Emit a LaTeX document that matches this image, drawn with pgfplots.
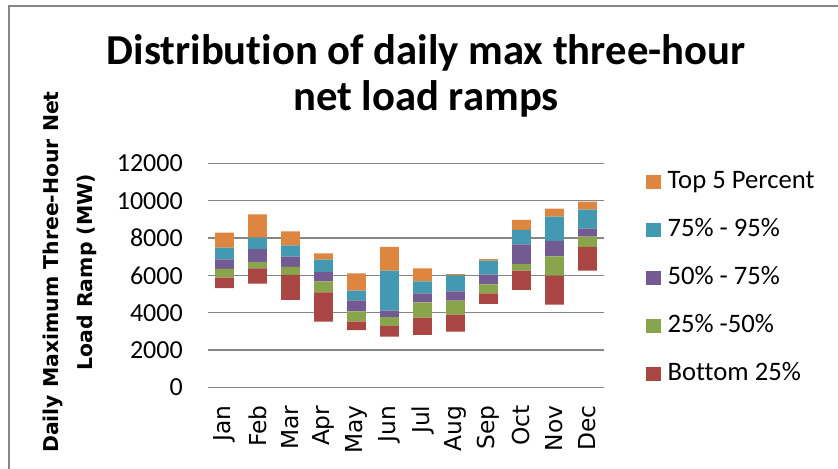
\documentclass[border=0pt]{standalone}
\usepackage{fontspec}
\setmainfont[Ligatures=NoCommon]{Carlito}
\newfontfamily\dejavu{DejaVu Sans}
\usepackage{pgfplots}
\usepackage{pgfplotstable}
\pgfplotsset{compat=1.18}

\definecolor{cTop}{RGB}{222,134,64}
\definecolor{cHigh}{RGB}{67,153,177}
\definecolor{cMid}{RGB}{115,90,146}
\definecolor{cLow}{RGB}{137,165,76}
\definecolor{cBot}{RGB}{169,69,67}
\definecolor{gridgray}{RGB}{134,134,134}

% base = lower end of the bar, then segment heights (MW)
\pgfplotstableread{
x base bot low mid high top
0  5320  555  465  520  625  805
1  5555  820  340  695  605  1250
2  4680  1340 430  555  605  750
3  3520  1570 590  500  660  340
4  3070  450  550  590  520  930
5  2715  570  480  340  2145 1270
6  2805  930  820  480  645  695
7  2980  910  750  500  860  70
8  4465  570  480  520  750  90
9  5215  1035 355  1055 770  535
10 4430  1550 1040 820  1305 425
11 6250  1270 555  430  1015 430
}\ramps

\begin{document}
\begin{tikzpicture}
\useasboundingbox (0,0) rectangle (628.5pt,-351pt);
\draw[gridgray, line width=1.5pt] (6.4pt,-360pt) -- (6.4pt,-4.5pt) -- (640pt,-4.5pt);

\node[anchor=base, font=\fontsize{32}{38}\selectfont\bfseries] at (319.5pt,-48pt) {Distribution of daily max three-hour};
\node[anchor=base, font=\fontsize{32}{38}\selectfont\bfseries] at (319.5pt,-83pt) {net load ramps};

\node[rotate=90, align=center, font=\dejavu\fontsize{15.3}{25.5}\selectfont\bfseries] at (52.5pt,-204pt)
  {Daily Maximum Three-Hour Net\\Load Ramp (MW)};

\begin{axis}[
  at={(156pt,-290.5pt)}, anchor=south west,
  scale only axis,
  width=297pt, height=168pt,
  ybar stacked,
  bar width=0.57,
  xmin=-0.5, xmax=11.5,
  ymin=0, ymax=12000,
  ytick={0,2000,...,12000},
  scaled y ticks=false,
  xtick={0,...,11},
  xticklabels={Jan,Feb,Mar,Apr,May,Jun,Jul,Aug,Sep,Oct,Nov,Dec},
  axis line style={draw=none},
  major tick length=0pt,
  ymajorgrids,
  grid style={gridgray, line width=1.1pt},
  /pgf/number format/assume math mode=true,
  /pgf/number format/1000 sep={},
  yticklabel style={font=\fontsize{19.5}{22}\selectfont, inner xsep=0pt, xshift=-18.75pt},
  xticklabel style={font=\dejavu\fontsize{17.5}{20}\selectfont, rotate=90, anchor=east, inner sep=0pt},
  xticklabel shift=13.5pt,
  reverse legend,
  legend cell align=left,
  legend image code/.code={\fill[#1] (0pt,-5.5pt) rectangle (11pt,5.5pt);},
  legend style={draw=none, fill=none, at={(1.106,0.488)}, anchor=west,
    inner sep=0pt, row sep=18pt,
    nodes={inner sep=0pt, font=\fontsize{20}{22}\selectfont, text height=14pt, text depth=4pt},
    /tikz/every odd column/.append style={column sep=5pt}},
]
\addplot[draw=none, fill=none, forget plot] table[x=x, y=base] {\ramps};
\addplot[draw=none, fill=cBot] table[x=x, y=bot] {\ramps};
\addplot[draw=none, fill=cLow] table[x=x, y=low] {\ramps};
\addplot[draw=none, fill=cMid] table[x=x, y=mid] {\ramps};
\addplot[draw=none, fill=cHigh] table[x=x, y=high] {\ramps};
\addplot[draw=none, fill=cTop] table[x=x, y=top] {\ramps};
\legend{Bottom 25\%, 25\% -50\%, 50\% - 75\%, 75\% - 95\%, Top 5 Percent}
\end{axis}
\end{tikzpicture}
\end{document}
